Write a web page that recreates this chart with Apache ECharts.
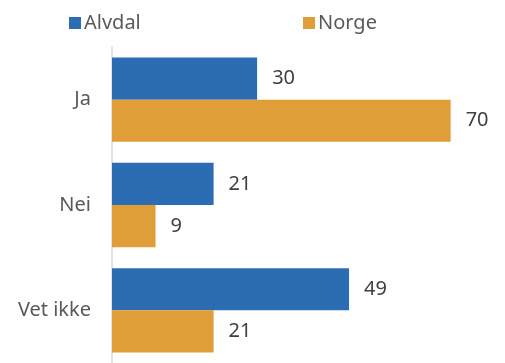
<!DOCTYPE html>
<html><head><meta charset="utf-8">
<script src="https://cdn.jsdelivr.net/npm/echarts@6/dist/echarts.min.js"></script>
<style>html,body{margin:0;padding:0;background:#fff}#c{width:505px;height:363px}</style>
</head><body><div id="c"></div>
<script>
const categories = ['Ja', 'Nei', 'Vet ikke'];
const alvdal = [30, 21, 49];
const norge = [70, 9, 21];
const seriesNames = ['Alvdal', 'Norge'];
const colors = ['#2B6CB3', '#DF9E37'];
const font = '"Noto Sans", "Open Sans", sans-serif';
const chart = echarts.init(document.getElementById('c'), null, {renderer: 'canvas'});
const lbl = {show: true, position: 'right', distance: 15, color: '#404040', fontSize: 20, fontFamily: font};
const legText = {fontSize: 20, color: '#595959', fontFamily: font, padding: [0,0,0,-2]};
chart.setOption({
  animation: false,
  legend: [
    {data: [seriesNames[0]], left: 64, top: 8, itemWidth: 12, itemHeight: 12, itemGap: 0, icon: 'rect', textStyle: legText},
    {data: [seriesNames[1]], left: 298, top: 8, itemWidth: 12, itemHeight: 12, itemGap: 0, icon: 'rect', textStyle: legText}
  ],
  grid: {left: 112, top: 47, width: 387, height: 320, containLabel: false},
  xAxis: {type: 'value', min: 0, max: 80, show: false},
  yAxis: {type: 'category', data: categories, inverse: true,
    axisLine: {show: true, lineStyle: {color: '#D9D9D9', width: 1.5}},
    axisTick: {show: false},
    axisLabel: {margin: 21, fontSize: 20, color: '#595959', fontFamily: font}},
  series: [
    {name: seriesNames[0], type: 'bar', data: alvdal, itemStyle: {color: colors[0]}, barGap: '0%', barCategoryGap: '20%', label: lbl},
    {name: seriesNames[1], type: 'bar', data: norge, itemStyle: {color: colors[1]}, barGap: '0%', barCategoryGap: '20%', label: lbl}
  ]
});
</script></body></html>
